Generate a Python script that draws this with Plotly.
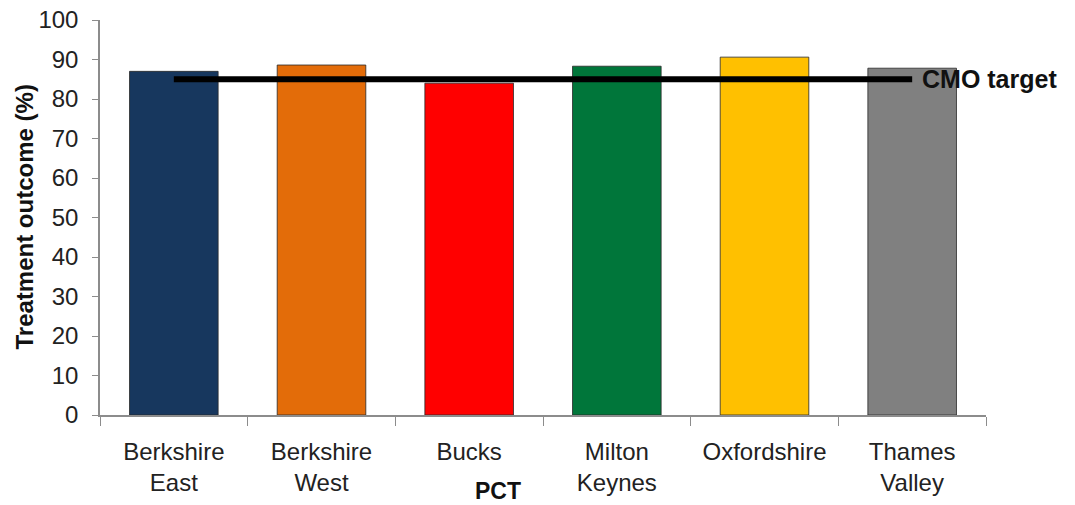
import plotly.graph_objects as go

categories = ["Berkshire<br>East", "Berkshire<br>West", "Bucks", "Milton<br>Keynes", "Oxfordshire", "Thames<br>Valley"]
outcomes = [87.0, 88.6, 84.0, 88.3, 90.6, 87.8]
cmo_target = [85, 85, 85, 85, 85, 85]
bar_colors = ["#17375E", "#E36C09", "#FF0000", "#00763A", "#FFC000", "#808080"]
y_ticks = list(range(0, 101, 10))

FONT = "Liberation Sans, Arial, sans-serif"

fig = go.Figure()
fig.add_trace(go.Bar(
    x=categories, y=outcomes, width=0.6,
    marker=dict(color=bar_colors, line=dict(color="rgba(40,40,40,0.8)", width=1)),
    showlegend=False,
))
fig.add_trace(go.Scatter(
    x=categories, y=cmo_target, mode="lines",
    line=dict(color="black", width=6), showlegend=False,
))

fig.add_annotation(
    x=categories[-1], y=cmo_target[-1], xref="x", yref="y",
    text="<b>CMO target</b>", showarrow=False, xanchor="left", yanchor="middle",
    xshift=8, font=dict(family=FONT, size=25, color="#111"),
)
fig.add_annotation(
    x=0, y=0.5, xref="paper", yref="paper", xanchor="center", yanchor="middle",
    xshift=-76, text="<b>Treatment outcome (%)</b>", textangle=-90, showarrow=False,
    font=dict(family=FONT, size=24, color="#111"),
)
fig.add_annotation(
    x=0.449, y=0, xref="paper", yref="paper", xanchor="center", yanchor="top",
    yshift=-62, text="<b>PCT</b>", showarrow=False, borderpad=0,
    font=dict(family=FONT, size=23, color="#111"),
)

fig.update_layout(
    width=1075, height=505,
    margin=dict(l=100, r=89, t=20, b=90),
    plot_bgcolor="white", paper_bgcolor="white",
    bargap=0.4,
    font=dict(family=FONT, color="#222"),
)
fig.update_xaxes(
    type="category", showline=True, linecolor="#8c8c8c", linewidth=1.5,
    ticks="outside", tickson="boundaries", ticklen=9, tickcolor="#8c8c8c",
    tickfont=dict(family=FONT, size=24, color="#222"), showgrid=False,
    ticklabelstandoff=14, automargin=False,
    range=[-0.5, 5.5],
)
fig.update_yaxes(
    range=[0, 100], tickvals=y_ticks, showline=True, linecolor="#8c8c8c", linewidth=1.5,
    ticks="outside", ticklen=6, tickcolor="#8c8c8c", showgrid=False, zeroline=False,
    tickfont=dict(family=FONT, size=24, color="#222"),
    ticklabelstandoff=9, automargin=False,
)

fig.write_html("out.html")
